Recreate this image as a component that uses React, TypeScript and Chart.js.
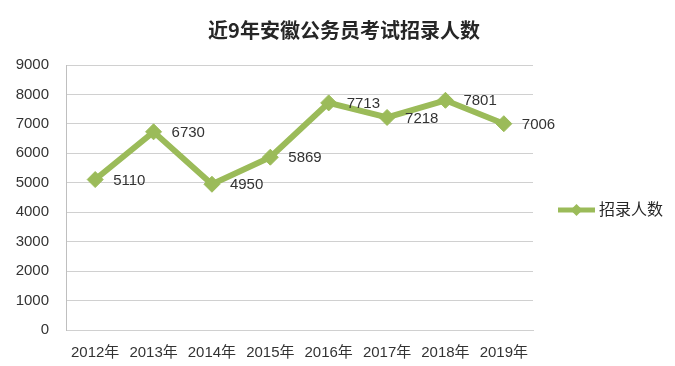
import React, { useEffect, useRef } from "react";
import { Chart, registerables } from "chart.js";

Chart.register(...registerables);

const title = "近9年安徽公务员考试招录人数";
const seriesName = "招录人数";
const categories = ["2012年", "2013年", "2014年", "2015年", "2016年", "2017年", "2018年", "2019年"];
const values = [5110, 6730, 4950, 5869, 7713, 7218, 7801, 7006];
const yMin = 0;
const yMax = 9000;
const yStep = 1000;

const GREEN = "#9BBB59";
const TEXT = "#333333";
const NUM_FONT = "'Liberation Sans', 'Noto Sans CJK SC', sans-serif";
const CJK_FONT = "'Noto Sans CJK SC', 'Liberation Sans', sans-serif";

const decorPlugin = {
  id: "decor",
  afterDatasetsDraw(chart: any) {
    const ctx = chart.ctx;
    const meta = chart.getDatasetMeta(0);
    ctx.save();
    ctx.font = `15px ${NUM_FONT}`;
    ctx.fillStyle = TEXT;
    ctx.textAlign = "left";
    ctx.textBaseline = "middle";
    meta.data.forEach((pt: any, i: number) => {
      ctx.fillText(String(values[i]), pt.x + 18, pt.y + 1);
    });
    ctx.restore();
  },
  afterDraw(chart: any) {
    const ctx = chart.ctx;
    ctx.save();
    ctx.font = `bold 20px ${CJK_FONT}`;
    ctx.fillStyle = "#262626";
    ctx.textAlign = "center";
    ctx.textBaseline = "middle";
    ctx.fillText(title, 344, 30);
    const ly = 210;
    ctx.strokeStyle = GREEN;
    ctx.lineWidth = 5;
    ctx.beginPath();
    ctx.moveTo(558, ly);
    ctx.lineTo(595, ly);
    ctx.stroke();
    ctx.fillStyle = GREEN;
    ctx.beginPath();
    const cx = 576.5, r = 6;
    ctx.moveTo(cx, ly - r);
    ctx.lineTo(cx + r, ly);
    ctx.lineTo(cx, ly + r);
    ctx.lineTo(cx - r, ly);
    ctx.closePath();
    ctx.fill();
    ctx.font = `16px ${CJK_FONT}`;
    ctx.fillStyle = "#262626";
    ctx.textAlign = "left";
    ctx.textBaseline = "middle";
    ctx.fillText(seriesName, 599, ly - 1);
    ctx.restore();
  },
};

export default function App() {
  const ref = useRef<HTMLCanvasElement | null>(null);
  useEffect(() => {
    if (!ref.current) return;
    const chart = new Chart(ref.current, {
      type: "line",
      data: {
        labels: categories,
        datasets: [
          {
            label: seriesName,
            data: values,
            borderColor: GREEN,
            backgroundColor: GREEN,
            borderWidth: 6,
            tension: 0,
            pointStyle: "rectRot",
            pointRadius: 8,
            pointBackgroundColor: GREEN,
            pointBorderColor: GREEN,
            pointBorderWidth: 1,
          },
        ],
      },
      options: {
        animation: false,
        responsive: true,
        maintainAspectRatio: false,
        layout: { padding: { left: 0, right: 142, top: 65, bottom: 0 } },
        plugins: {
          legend: { display: false },
          title: { display: false },
          tooltip: { enabled: false },
        },
        scales: {
          x: {
            type: "category",
            offset: true,
            grid: { display: false, drawTicks: false },
            border: { display: true, color: "#D0D0D0", width: 1 },
            ticks: {
              color: TEXT,
              font: { size: 15, family: NUM_FONT },
              padding: 14,
              maxRotation: 0,
              autoSkip: false,
            },
            afterFit(scale: any) {
              scale.height = 36;
            },
          },
          y: {
            min: yMin,
            max: yMax,
            grid: { color: "#D0D0D0", lineWidth: 1, drawTicks: false },
            border: { display: true, color: "#BFBFBF", width: 1 },
            ticks: {
              stepSize: yStep,
              color: TEXT,
              font: { size: 15, family: NUM_FONT },
              padding: 17,
              callback: (v: any) => String(v),
            },
            afterFit(scale: any) {
              scale.width = 66;
            },
          },
        },
      },
      plugins: [decorPlugin],
    });
    return () => chart.destroy();
  }, []);
  return (
    <div style={{ position: "absolute", left: 0, top: 0, width: 675, height: 366, background: "#fff" }}>
      <canvas ref={ref} />
    </div>
  );
}
